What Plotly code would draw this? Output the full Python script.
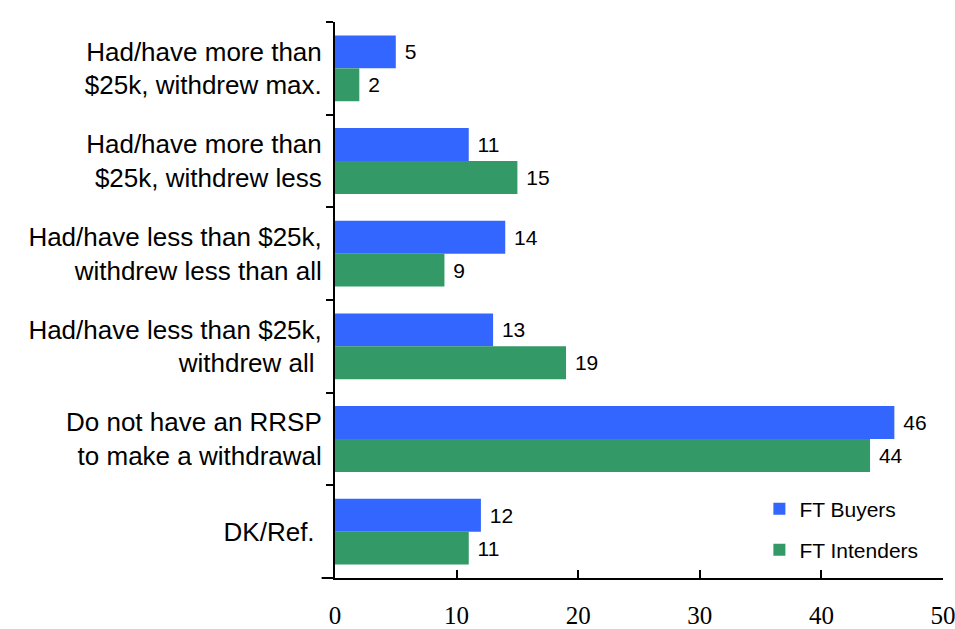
import plotly.graph_objects as go

# Kategori dari atas ke bawah
categories = [
    "Had/have more than<br>$25k, withdrew max.",
    "Had/have more than<br>$25k, withdrew less",
    "Had/have less than $25k,<br>withdrew less than all",
    "Had/have less than $25k,<br>withdrew all ",
    "Do not have an RRSP<br>to make a withdrawal",
    "DK/Ref. ",
]
buyers = [5, 11, 14, 13, 46, 12]
intenders = [2, 15, 9, 19, 44, 11]
x_ticks = [0, 10, 20, 30, 40, 50]

BLUE = "#3366FF"
GREEN = "#339966"
SANS = "Liberation Sans, Arial, sans-serif"
SERIF = "Liberation Serif, Times New Roman, serif"

fig = go.Figure()

fig.add_trace(go.Bar(
    y=categories, x=buyers, orientation="h", name="FT Buyers",
    marker=dict(color=BLUE, line=dict(width=0)),
    texttemplate=" %{x}", textposition="outside", cliponaxis=False,
    textfont=dict(family=SANS, size=21, color="black"),
    legend="legend", showlegend=True,
))
fig.add_trace(go.Bar(
    y=categories, x=intenders, orientation="h", name="FT Intenders",
    marker=dict(color=GREEN, line=dict(width=0)),
    texttemplate=" %{x}", textposition="outside", cliponaxis=False,
    textfont=dict(family=SANS, size=21, color="black"),
    legend="legend2", showlegend=True,
))

fig.update_layout(
    width=955, height=629,
    margin=dict(l=335, r=12, t=22, b=51),
    barmode="group", bargap=0.29, bargroupgap=0,
    plot_bgcolor="white", paper_bgcolor="white",
    font=dict(family=SANS, color="black"),
    showlegend=True,
    legend=dict(x=0.698, y=0.124, xanchor="left", yanchor="middle",
                font=dict(family=SANS, size=21), bgcolor="rgba(0,0,0,0)"),
    legend2=dict(x=0.698, y=0.05, xanchor="left", yanchor="middle",
                 font=dict(family=SANS, size=21), bgcolor="rgba(0,0,0,0)"),
    shapes=[dict(type="line", xref="paper", yref="paper", x0=-0.022, x1=0,
                 y0=0, y1=0, line=dict(color="black", width=2))],
)

fig.update_xaxes(
    range=[0, 50], tickvals=x_ticks, showgrid=False, zeroline=False,
    showline=True, linecolor="black", linewidth=2,
    ticks="inside", ticklen=8, tickwidth=2, tickcolor="black",
    tickfont=dict(family=SERIF, size=25, color="black"),
    ticklabelstandoff=14, automargin=False, ticklabeloverflow="allow",
)
fig.update_yaxes(
    autorange="reversed", showgrid=False, zeroline=False,
    showline=True, linecolor="black", linewidth=2,
    ticks="outside", ticklen=7, tickwidth=2, tickcolor="black",
    tickson="boundaries",
    tickfont=dict(family=SANS, size=26, color="black"),
    ticklabelstandoff=6, automargin=False,
)

# hilangkan margin bawaan body supaya figure pas di jendela
fig.write_html(
    "out.html",
    config={"displayModeBar": False},
    post_script="document.body.style.margin='0';"
                "document.documentElement.style.overflow='hidden';",
)
